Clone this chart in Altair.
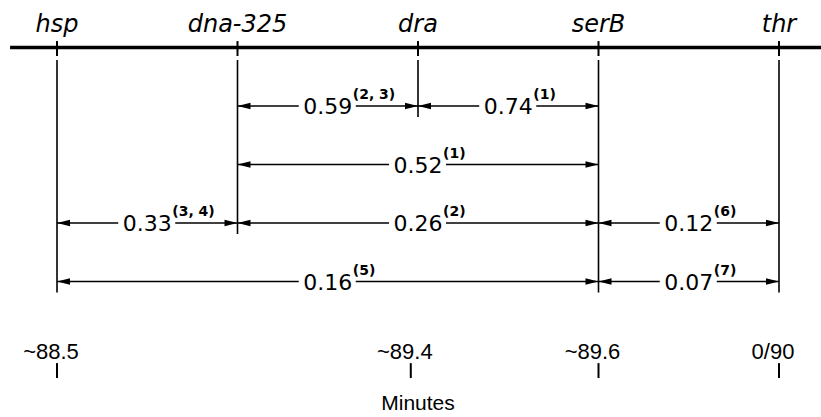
import altair as alt
import pandas as pd

# ---- data ----
genes = ["hsp", "dna-325", "dra", "serB", "thr"]

iv_from = ["dna-325", "dra", "dna-325", "hsp", "dna-325", "serB", "hsp", "serB"]
iv_to = ["dra", "serB", "serB", "dna-325", "serB", "thr", "serB", "thr"]
iv_value = ["0.59", "0.74", "0.52", "0.33", "0.26", "0.12", "0.16", "0.07"]
iv_ref = ["(2, 3)", "(1)", "(1)", "(3, 4)", "(2)", "(6)", "(5)", "(7)"]
iv_row = [1, 1, 2, 3, 3, 3, 4, 4]

minute_labels = ["~88.5", "~89.4", "~89.6", "0/90"]
minute_pos = [0, 1.96, 3, 4]
axis_title = "Minutes"

# ---- derived tables ----
gpos = {g: i for i, g in enumerate(genes)}
iv = pd.DataFrame({
    "x1": [gpos[a] for a in iv_from],
    "x2": [gpos[b] for b in iv_to],
    "row": iv_row,
    "value": iv_value,
    "ref": iv_ref,
})
iv["mid"] = (iv["x1"] + iv["x2"]) / 2

gdf = pd.DataFrame({"gene": genes, "x": [gpos[g] for g in genes]})
gdf["bottom"] = [max(r for a, b, r in zip(iv_from, iv_to, iv_row) if g in (a, b)) for g in genes]
gdf["top"] = 0.214
gdf["t1"] = -0.11
gdf["t2"] = 0.145
gdf["ly"] = -0.265

X_MIN, X_MAX = -0.3158, 4.2327
main = pd.DataFrame({"x": [-0.26], "x2": [X_MAX], "y": [0]})

mdf = pd.DataFrame({"label": minute_labels, "x": minute_pos})
mdf["ly"] = 5.325
mdf["t1"] = 5.395
mdf["t2"] = 5.65
tdf = pd.DataFrame({"label": [axis_title], "x": [2.0], "y": [6.2]})

xs = alt.Scale(domain=[X_MIN, X_MAX], nice=False, zero=False)
ys = alt.Scale(domain=[-0.812, 6.316], nice=False, zero=False, reverse=True)


def X(f):
    return alt.X(f, type="quantitative", scale=xs, axis=None)


def Y(f):
    return alt.Y(f, type="quantitative", scale=ys, axis=None)


main_line = alt.Chart(main).mark_rule(color="black", strokeWidth=3.5).encode(
    x=X("x"), x2="x2", y=Y("y"))

gene_ticks = alt.Chart(gdf).mark_rule(color="black", strokeWidth=2).encode(
    x=X("x"), y=Y("t1"), y2="t2")

gene_labels = alt.Chart(gdf).mark_text(
    font="DejaVu Sans", fontStyle="italic", fontSize=24, baseline="alphabetic",
    align="center", color="black").encode(x=X("x"), y=Y("ly"), text="gene")

verticals = alt.Chart(gdf).mark_rule(color="black", strokeWidth=1.6, y2Offset=11).encode(
    x=X("x"), y=Y("top"), y2="bottom")

left_seg = alt.Chart(iv).mark_rule(color="black", strokeWidth=1.6, x2Offset=-29).encode(
    x=X("x1"), x2="mid", y=Y("row"))
right_seg = alt.Chart(iv).mark_rule(color="black", strokeWidth=1.6, xOffset=28).encode(
    x=X("mid"), x2="x2", y=Y("row"))

left_arrow = alt.Chart(iv).mark_point(
    shape="M0,0L2,-0.5L2,0.5Z", size=169, filled=True, opacity=1,
    color="black", strokeWidth=0).encode(x=X("x1"), y=Y("row"))
right_arrow = alt.Chart(iv).mark_point(
    shape="M0,0L-2,-0.5L-2,0.5Z", size=169, filled=True, opacity=1,
    color="black", strokeWidth=0).encode(x=X("x2"), y=Y("row"))

numbers = alt.Chart(iv).mark_text(
    font="DejaVu Sans", fontSize=22, baseline="alphabetic", align="center",
    dy=8, color="black").encode(x=X("mid"), y=Y("row"), text="value")
refs = alt.Chart(iv).mark_text(
    font="DejaVu Sans", fontWeight="bold", fontSize=14, baseline="alphabetic",
    align="left", dx=25, dy=-7, color="black").encode(x=X("mid"), y=Y("row"), text="ref")

min_labels = alt.Chart(mdf).mark_text(
    font="Liberation Sans", fontSize=22, baseline="alphabetic", align="center",
    dx=-6, color="black").encode(x=X("x"), y=Y("ly"), text="label")
min_ticks = alt.Chart(mdf).mark_rule(color="black", strokeWidth=2).encode(
    x=X("x"), y=Y("t1"), y2="t2")
title = alt.Chart(tdf).mark_text(
    font="Liberation Sans", fontSize=21, baseline="alphabetic", align="center",
    color="black").encode(x=X("x"), y=Y("y"), text="label")

chart = alt.layer(
    main_line, gene_ticks, gene_labels, verticals, left_seg, right_seg,
    left_arrow, right_arrow, numbers, refs, min_labels, min_ticks, title
).properties(
    width=821, height=417, padding=0, autosize="none", background="white"
).configure_view(stroke=None)

chart.save("out.html", embed_options={"renderer": "svg", "actions": False})
